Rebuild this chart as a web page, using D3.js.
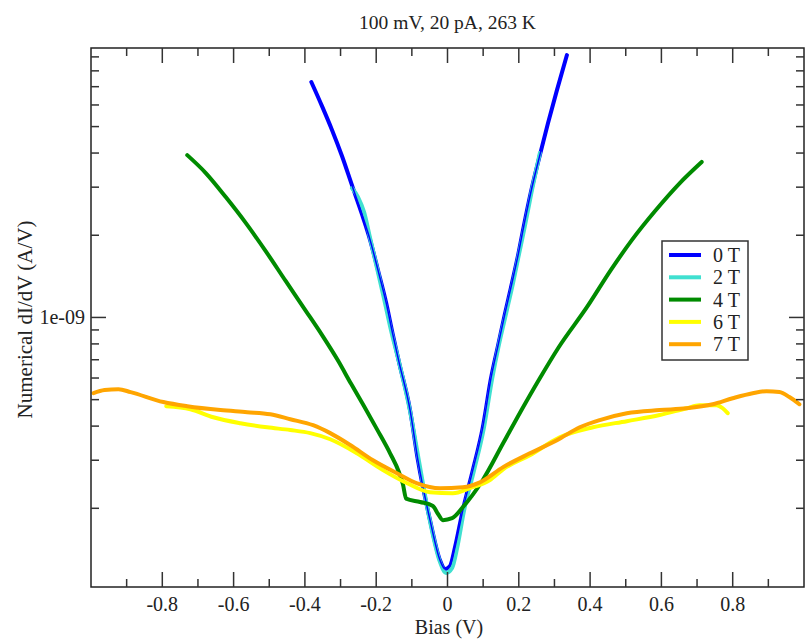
<!DOCTYPE html>
<html lang="en">
<head>
    <meta charset="UTF-8">
    <title>dI/dV vs Bias</title>
    <script src="https://d3js.org/d3.v7.min.js"></script>
    <style>
        body { margin: 0; background: #fff; }
        text { font-family: "Liberation Serif", "Times New Roman", serif; fill: #222; }
    </style>
</head>
<body>
<svg id="chart"></svg>
<script>
    // bias (V) and numerical dI/dV (A/V)
    const bias0T = [-0.382, -0.352, -0.324, -0.296, -0.268, -0.240, -0.217, -0.195, -0.172, -0.153, -0.136, -0.105, -0.083, -0.049, -0.021, -0.007, 0.007, 0.021, 0.043, 0.071, 0.099, 0.122, 0.142, 0.161, 0.181, 0.198, 0.214, 0.234, 0.259, 0.282, 0.307, 0.335];
    const didv0T = [7.28e-9, 5.94e-9, 4.86e-9, 3.90e-9, 3.05e-9, 2.39e-9, 1.92e-9, 1.49e-9, 1.13e-9, 8.61e-10, 6.86e-10, 4.58e-10, 3.00e-10, 1.81e-10, 1.29e-10, 1.20e-10, 1.23e-10, 1.44e-10, 1.97e-10, 2.76e-10, 3.96e-10, 5.99e-10, 7.92e-10, 1.03e-9, 1.34e-9, 1.69e-9, 2.16e-9, 2.88e-9, 3.93e-9, 5.15e-9, 6.80e-9, 9.14e-9];

    const bias2T = [-0.268, -0.251, -0.234, -0.217, -0.198, -0.178, -0.158, -0.136, -0.105, -0.080, -0.049, -0.021, -0.004, 0.013, 0.027, 0.046, 0.074, 0.102, 0.125, 0.144, 0.164, 0.184, 0.200, 0.217, 0.237, 0.259];
    const didv2T = [2.98e-9, 2.76e-9, 2.43e-9, 1.95e-9, 1.52e-9, 1.17e-9, 8.91e-10, 6.86e-10, 4.54e-10, 2.98e-10, 1.79e-10, 1.27e-10, 1.16e-10, 1.21e-10, 1.43e-10, 1.95e-10, 2.74e-10, 3.93e-10, 5.94e-10, 7.92e-10, 1.03e-9, 1.34e-9, 1.69e-9, 2.16e-9, 2.93e-9, 4.00e-9];

    const bias4T = [-0.730, -0.678, -0.622, -0.566, -0.510, -0.454, -0.398, -0.350, -0.308, -0.270, -0.234, -0.198, -0.161, -0.136, -0.125, -0.116, -0.077, -0.041, -0.027, -0.013, 0.013, 0.043, 0.099, 0.156, 0.212, 0.259, 0.312, 0.391, 0.458, 0.517, 0.584, 0.651, 0.713];
    const didv4T = [3.93e-9, 3.38e-9, 2.76e-9, 2.22e-9, 1.75e-9, 1.36e-9, 1.06e-9, 8.54e-10, 6.98e-10, 5.70e-10, 4.73e-10, 3.90e-10, 3.18e-10, 2.71e-10, 2.45e-10, 2.17e-10, 2.11e-10, 2.04e-10, 1.91e-10, 1.81e-10, 1.84e-10, 2.02e-10, 2.54e-10, 3.46e-10, 4.69e-10, 5.99e-10, 7.78e-10, 1.09e-9, 1.49e-9, 1.92e-9, 2.47e-9, 3.10e-9, 3.71e-9];

    const bias6T = [-0.789, -0.721, -0.657, -0.581, -0.506, -0.441, -0.385, -0.329, -0.254, -0.181, -0.113, -0.049, 0.015, 0.063, 0.119, 0.156, 0.231, 0.315, 0.408, 0.503, 0.595, 0.671, 0.707, 0.755, 0.772, 0.786];
    const didv6T = [4.73e-10, 4.61e-10, 4.31e-10, 4.10e-10, 3.96e-10, 3.87e-10, 3.77e-10, 3.58e-10, 3.18e-10, 2.76e-10, 2.47e-10, 2.29e-10, 2.27e-10, 2.37e-10, 2.54e-10, 2.78e-10, 3.13e-10, 3.64e-10, 3.96e-10, 4.17e-10, 4.39e-10, 4.65e-10, 4.77e-10, 4.77e-10, 4.65e-10, 4.46e-10];

    const bias7T = [-0.993, -0.962, -0.923, -0.889, -0.797, -0.730, -0.637, -0.562, -0.497, -0.441, -0.377, -0.329, -0.273, -0.209, -0.142, -0.085, -0.021, 0.043, 0.091, 0.156, 0.231, 0.307, 0.371, 0.427, 0.503, 0.595, 0.671, 0.744, 0.800, 0.856, 0.895, 0.931, 0.959, 0.987];
    const didv7T = [5.28e-10, 5.42e-10, 5.46e-10, 5.33e-10, 4.90e-10, 4.73e-10, 4.58e-10, 4.50e-10, 4.42e-10, 4.24e-10, 4.03e-10, 3.77e-10, 3.41e-10, 3.00e-10, 2.69e-10, 2.47e-10, 2.37e-10, 2.39e-10, 2.49e-10, 2.83e-10, 3.18e-10, 3.55e-10, 3.96e-10, 4.21e-10, 4.46e-10, 4.58e-10, 4.65e-10, 4.81e-10, 5.06e-10, 5.28e-10, 5.37e-10, 5.33e-10, 5.11e-10, 4.81e-10];

    const seriesNames = ["0 T", "2 T", "4 T", "6 T", "7 T"];
    const seriesColors = ["#0000ff", "#40e0d0", "#008b00", "#ffff00", "#ffa500"];

    const xTicksMajor = [-0.8, -0.6, -0.4, -0.2, 0, 0.2, 0.4, 0.6, 0.8];
    const xTickLabels = ["-0.8", "-0.6", "-0.4", "-0.2", "0", "0.2", "0.4", "0.6", "0.8"];
    const xTicksMinor = [-0.9, -0.7, -0.5, -0.3, -0.1, 0.1, 0.3, 0.5, 0.7, 0.9];
    const yTicksMajor = [1e-9];
    const yTickLabels = ["1e-09"];
    const yTicksMinor = [2e-10, 3e-10, 4e-10, 5e-10, 6e-10, 7e-10, 8e-10, 9e-10,
        2e-9, 3e-9, 4e-9, 5e-9, 6e-9, 7e-9, 8e-9, 9e-9];

    const width = 806, height = 640;
    const plotLeft = 91, plotRight = 804, plotTop = 48, plotBottom = 587;

    const svg = d3.select("#chart")
        .attr("width", width)
        .attr("height", height);

    const x = d3.scaleLinear().domain([-1, 1]).range([plotLeft, plotRight]);
    const y = d3.scaleLog().domain([1.03e-10, 9.7e-9]).range([plotBottom, plotTop]);

    const series = [
        {xs: bias0T, ys: didv0T},
        {xs: bias2T, ys: didv2T},
        {xs: bias4T, ys: didv4T},
        {xs: bias6T, ys: didv6T},
        {xs: bias7T, ys: didv7T}
    ].map((s, i) => ({
        name: seriesNames[i],
        color: seriesColors[i],
        points: s.xs.map((b, j) => [b, s.ys[j]])
    }));

    const line = d3.line()
        .x(d => x(d[0]))
        .y(d => y(d[1]))
        .curve(d3.curveMonotoneX);

    svg.append("defs").append("clipPath").attr("id", "plotclip")
        .append("rect")
        .attr("x", plotLeft).attr("y", plotTop)
        .attr("width", plotRight - plotLeft).attr("height", plotBottom - plotTop);

    const plot = svg.append("g").attr("clip-path", "url(#plotclip)");

    function drawLine(s, w) {
        plot.append("path")
            .datum(s.points)
            .attr("d", line)
            .attr("fill", "none")
            .attr("stroke", s.color)
            .attr("stroke-width", w)
            .attr("stroke-linejoin", "round")
            .attr("stroke-linecap", "round");
    }

    drawLine(series[0], 4);
    drawLine(series[1], 4);
    // blue shows as a thin line through the turquoise where they overlap
    drawLine(series[0], 1.5);
    drawLine(series[2], 4);
    drawLine(series[3], 4);
    drawLine(series[4], 4);

    // frame
    svg.append("rect")
        .attr("x", plotLeft).attr("y", plotTop)
        .attr("width", plotRight - plotLeft).attr("height", plotBottom - plotTop)
        .attr("fill", "none")
        .attr("stroke", "#222")
        .attr("stroke-width", 1.5);

    // ticks point inward on all four sides
    const axes = svg.append("g").attr("stroke", "#333").attr("stroke-width", 1.5);
    function xTicks(vals, len) {
        vals.forEach(v => {
            axes.append("line").attr("x1", x(v)).attr("x2", x(v))
                .attr("y1", plotBottom).attr("y2", plotBottom - len);
            axes.append("line").attr("x1", x(v)).attr("x2", x(v))
                .attr("y1", plotTop).attr("y2", plotTop + len);
        });
    }
    function yTicks(vals, len) {
        vals.forEach(v => {
            axes.append("line").attr("y1", y(v)).attr("y2", y(v))
                .attr("x1", plotLeft).attr("x2", plotLeft + len);
            axes.append("line").attr("y1", y(v)).attr("y2", y(v))
                .attr("x1", plotRight).attr("x2", plotRight - len);
        });
    }
    xTicks(xTicksMajor, 15);
    xTicks(xTicksMinor, 8);
    yTicks(yTicksMajor, 15);
    yTicks(yTicksMinor, 8);

    svg.append("g").selectAll("text")
        .data(xTicksMajor)
        .enter().append("text")
        .attr("x", d => x(d))
        .attr("y", 611)
        .attr("text-anchor", "middle")
        .attr("font-size", 20)
        .text((d, i) => xTickLabels[i]);

    svg.append("g").selectAll("text")
        .data(yTicksMajor)
        .enter().append("text")
        .attr("x", plotLeft - 6)
        .attr("y", d => y(d) + 7)
        .attr("text-anchor", "end")
        .attr("font-size", 20)
        .text((d, i) => yTickLabels[i]);

    svg.append("text")
        .attr("x", (plotLeft + plotRight) / 2)
        .attr("y", 29)
        .attr("text-anchor", "middle")
        .attr("font-size", 19.5)
        .text("100 mV, 20 pA, 263 K");

    svg.append("text")
        .attr("x", 449)
        .attr("y", 634)
        .attr("text-anchor", "middle")
        .attr("font-size", 20)
        .text("Bias (V)");

    svg.append("text")
        .attr("transform", "translate(32," + ((plotTop + plotBottom) / 2 + 2) + ") rotate(-90)")
        .attr("text-anchor", "middle")
        .attr("font-size", 21)
        .text("Numerical dI/dV (A/V)");

    // legend
    const legend = svg.append("g");
    legend.append("rect")
        .attr("x", 662).attr("y", 241)
        .attr("width", 86).attr("height", 119)
        .attr("fill", "#fff")
        .attr("stroke", "#333")
        .attr("stroke-width", 1.5);
    series.forEach((s, i) => {
        const ly = 255 + i * 22.3;
        legend.append("line")
            .attr("x1", 669).attr("x2", 701)
            .attr("y1", ly).attr("y2", ly)
            .attr("stroke", s.color)
            .attr("stroke-width", 4);
        legend.append("text")
            .attr("x", 713)
            .attr("y", ly + 7)
            .attr("font-size", 20)
            .text(s.name);
    });
</script>
</body>
</html>
